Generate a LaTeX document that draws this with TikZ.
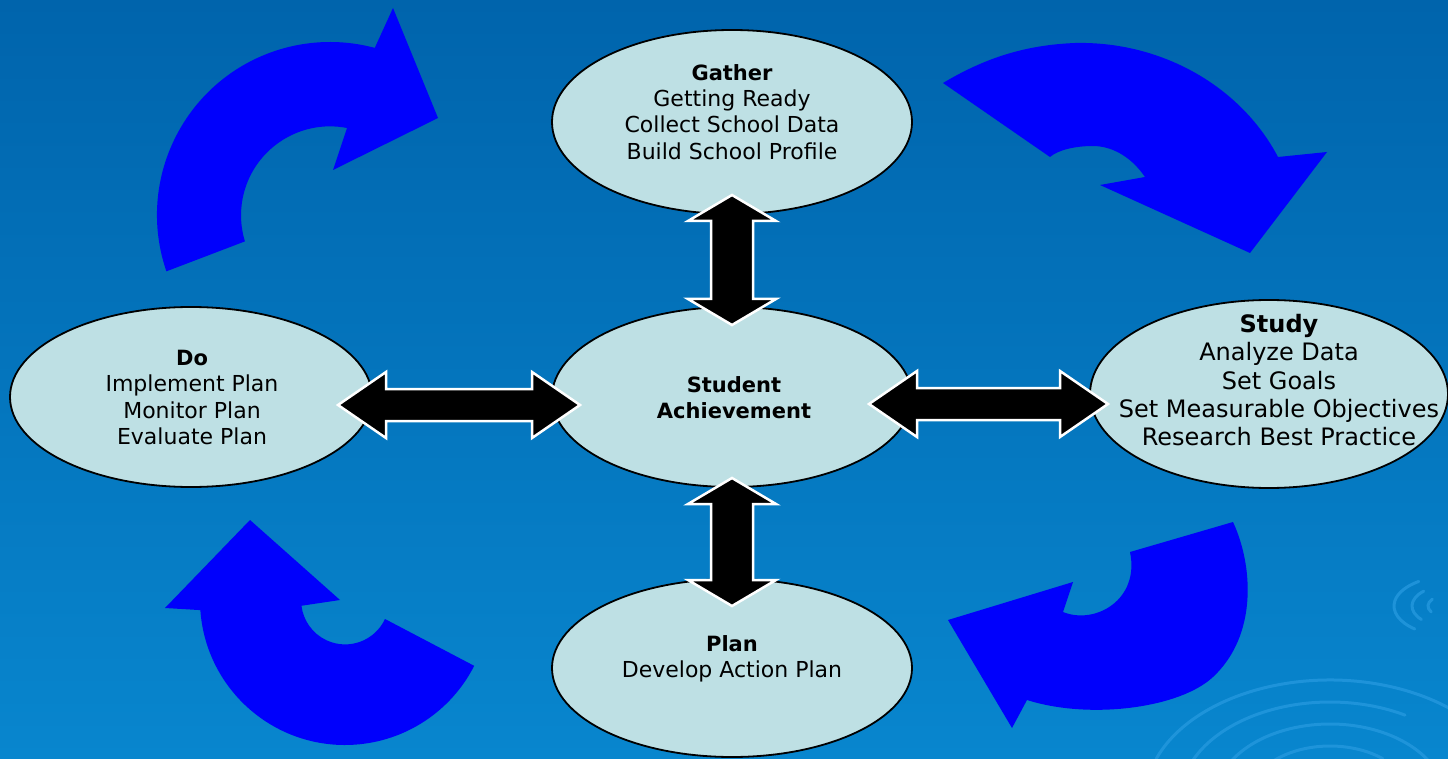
\documentclass[tikz,border=0pt]{standalone}
\usepackage{fontspec}
\setmainfont{DejaVu Sans}
\usetikzlibrary{shapes.geometric}
\definecolor{bgtop}{RGB}{0,100,172}
\definecolor{bgbot}{RGB}{8,134,206}
\definecolor{ellfill}{RGB}{190,224,228}
\definecolor{cycblue}{RGB}{0,0,252}
\definecolor{ripplec}{RGB}{36,152,222}
\newcommand{\hbiarrow}[3]{%
  \filldraw[biarrow] (#1,#3) -- (#1+48,#3-33) -- (#1+48,#3-16) -- (#2-48,#3-16) -- (#2-48,#3-33) -- (#2,#3)
   -- (#2-48,#3+33) -- (#2-48,#3+16) -- (#1+48,#3+16) -- (#1+48,#3+33) -- cycle;}
\newcommand{\vbiarrow}[3]{%
  \filldraw[biarrow] (#1,#2) -- (#1+44,#2+26) -- (#1+21,#2+26) -- (#1+21,#3-26) -- (#1+44,#3-26) -- (#1,#3)
   -- (#1-44,#3-26) -- (#1-21,#3-26) -- (#1-21,#2+26) -- (#1-44,#2+26) -- cycle;}
\begin{document}
\begin{tikzpicture}[x=1pt,y=-1pt,
  phase/.style={ellipse, draw=black, line width=1.8pt, fill=ellfill, inner sep=0pt},
  txt/.style={anchor=north, inner sep=0pt, align=center, text=black, font=\fontsize{22}{26.4}\selectfont},
  boldtxt/.style={txt, font=\fontsize{21}{26}\selectfont\bfseries},
  bigtxt/.style={txt, font=\fontsize{24}{28.3}\selectfont},
  biarrow/.style={fill=black, draw=white, line width=2.5pt, line join=miter},
  cyc/.style={fill=cycblue},
  rip/.style={draw=ripplec, line width=3pt, line cap=round, opacity=0.8}]
\useasboundingbox (0,0) rectangle (1448,759);
\clip (0,0) rectangle (1448,759);
\shade[top color=bgtop, bottom color=bgbot] (0,0) rectangle (1448,759);
% ripples
\draw[rip] (1330,800) ++(200:185 and 120) arc[start angle=200, end angle=330, x radius=185, y radius=120];
\draw[rip] (1330,800) ++(195:150 and 98) arc[start angle=195, end angle=300, x radius=150, y radius=98];
\draw[rip] (1330,800) ++(210:115 and 76) arc[start angle=210, end angle=340, x radius=115, y radius=76];
\draw[rip] (1330,800) ++(200:82 and 54) arc[start angle=200, end angle=310, x radius=82, y radius=54];
\draw[rip] (1452,606) ++(130:58 and 30) arc[start angle=130, end angle=235, x radius=58, y radius=30];
\draw[rip] (1452,606) ++(140:40 and 21) arc[start angle=140, end angle=225, x radius=40, y radius=21];
\draw[rip] (1452,606) ++(150:24 and 12) arc[start angle=150, end angle=215, x radius=24, y radius=12];
% curved cycle arrows
% top-left
\fill[cyc] (330,215) ++(161:173) arc[start angle=161, end angle=285, radius=173]
  -- (393,8) -- (438,118) -- (333,170) -- (347,128)
  arc[start angle=281, end angle=163, radius=89] -- cycle;
% top-right
\fill[cyc] (943,83) .. controls (985,58) and (1025,45) .. (1075,43)
  .. controls (1160,41) and (1240,85) .. (1278,157)
  -- (1327,152) -- (1250,253) -- (1100,185) -- (1145,177)
  .. controls (1130,155) and (1110,146) .. (1093,146)
  .. controls (1075,146) and (1058,150) .. (1050,157) -- cycle;
% bottom-left
\fill[cyc] (345,600) ++(176:145) arc[start angle=176, end angle=27, radius=145]
  -- (385,619) arc[start angle=25, end angle=173, radius=44]
  -- (340,600) -- (250,520) -- (165,608) -- cycle;
% bottom-right
\fill[cyc] (1130,552) -- (1233,522) .. controls (1253,565) and (1258,635) .. (1213,677)
  .. controls (1180,708) and (1090,720) .. (1027,700)
  -- (1012,728) -- (948,620) -- (1073,582) -- (1063,612)
  .. controls (1095,625) and (1140,600) .. (1130,552) -- cycle;
% ellipses
\node[phase, minimum width=360pt, minimum height=184pt] (gather) at (732,122) {};
\node[phase, minimum width=360pt, minimum height=180pt] (sa) at (732,397) {};
\node[phase, minimum width=360pt, minimum height=178pt] (plan) at (732,668) {};
\node[phase, minimum width=362pt, minimum height=180pt] (do) at (191,397) {};
\node[phase, minimum width=358pt, minimum height=188pt] (study) at (1269,394) {};
% double arrows
\vbiarrow{732}{195}{325}
\vbiarrow{732}{478}{606}
\hbiarrow{338}{580}{405}
\hbiarrow{869}{1108}{404}
% texts
\node[txt] (gathertxt) at (732,64) {{\bfseries\fontsize{21}{26.4}\selectfont Gather}\\Getting Ready\\Collect School Data\\Build School Profile};
\node[boldtxt] (satxt) at (734,376) {Student\\Achievement};
\node[txt] (plantxt) at (732,635) {{\bfseries\fontsize{21}{26.4}\selectfont Plan}\\Develop Action Plan};
\node[txt] (dotxt) at (192,350) {{\bfseries\fontsize{21}{26.4}\selectfont Do}\\Implement Plan\\Monitor Plan\\Evaluate Plan};
\node[bigtxt] (studytxt) at (1279,314) {{\bfseries Study}\\Analyze Data\\Set Goals\\Set Measurable Objectives\\Research Best Practice};
\end{tikzpicture}
\end{document}
